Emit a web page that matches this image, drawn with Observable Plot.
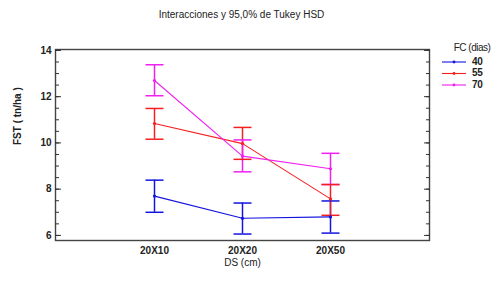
<!DOCTYPE html>
<html>
<head>
<meta charset="utf-8">
<script src="https://cdn.jsdelivr.net/npm/d3@7"></script>
<script src="https://cdn.jsdelivr.net/npm/@observablehq/plot@0.6"></script>
<style>
  body { margin: 0; background: #fff; }
  svg { font-family: "Liberation Sans", Arial, sans-serif; }
</style>
</head>
<body>
<div id="chart"></div>
<script>
// Categories (DS, cm) and groups (FC, dias)
const dsCategories = ["20X10", "20X20", "20X50"];
const fcGroups = ["40", "55", "70"];
const fcColors = ["#1414e0", "#f42020", "#f020f0"];

// Means and Tukey HSD 95% intervals
const mean40 = [7.70, 6.74, 6.80];
const low40  = [7.00, 6.06, 6.10];
const high40 = [8.39, 7.40, 7.49];

const mean55 = [10.84, 9.97, 7.58];
const low55  = [10.16, 9.29, 6.87];
const high55 = [11.49, 10.67, 8.20];

const mean70 = [12.70, 9.43, 8.88];
const low70  = [12.04, 8.75, 8.20];
const high70 = [13.38, 10.13, 9.55];

const yMajorTicks = [6, 8, 10, 12, 14];
const yMinorTicks = d3.range(6, 14.01, 0.5);

const title = "Interacciones y 95,0% de Tukey HSD";
const xLabel = "DS (cm)";
const yLabel = "FST ( tn/ha )";
const legendTitle = "FC (dias)";

const series = [
  {fc: fcGroups[0], mean: mean40, low: low40, high: high40},
  {fc: fcGroups[1], mean: mean55, low: low55, high: high55},
  {fc: fcGroups[2], mean: mean70, low: low70, high: high70}
];
const rows = series.flatMap(s => dsCategories.map((ds, i) => ({
  ds, fc: s.fc, mean: s.mean[i], low: s.low[i], high: s.high[i]
})));

const capSymbol = { draw(ctx) { ctx.moveTo(-9, 0); ctx.lineTo(9, 0); } };

const color = {domain: fcGroups, range: fcColors};

const chart = Plot.plot({
  width: 502,
  height: 281,
  marginLeft: 55,
  marginRight: 73,
  marginTop: 49,
  marginBottom: 41,
  style: {fontSize: "10px", fontFamily: "Liberation Sans, Arial, sans-serif", color: "#222"},
  x: {type: "point", domain: dsCategories, padding: 1.113, label: null},
  y: {domain: [5.78, 14.04], label: null},
  color,
  marks: [
    Plot.frame({stroke: "#444", strokeWidth: 1.4}),
    // minor + major ticks, inward, both sides
    Plot.axisY({anchor: "left", ticks: yMinorTicks, tickSize: -4, text: null, stroke: "#333", label: null}),
    Plot.axisY({anchor: "left", ticks: yMajorTicks, tickSize: -6, tickPadding: 10, fontWeight: "bold", letterSpacing: "-0.4px", label: null, stroke: "#333"}),
    Plot.axisY({anchor: "right", ticks: yMinorTicks, tickSize: -4, text: null, stroke: "#333", label: null}),
    Plot.axisY({anchor: "right", ticks: yMajorTicks, tickSize: -6, text: null, stroke: "#333", label: null}),
    Plot.axisX({tickSize: 0, tickPadding: 6, fontWeight: "bold", letterSpacing: "-0.6px", label: null}),
    Plot.text([xLabel], {frameAnchor: "bottom", dy: 25, fontSize: 10, letterSpacing: "-0.3px", fill: "#222"}),
    Plot.text([yLabel], {frameAnchor: "left", dx: -38, rotate: -90, fontSize: 10, fontWeight: "bold", letterSpacing: "-0.3px", fill: "#222"}),
    Plot.text([title], {frameAnchor: "top", dy: -39, dx: -1, fontSize: 10, letterSpacing: "-0.5px", fill: "#222"}),
    // error bars
    Plot.ruleX(rows, {x: "ds", y1: "low", y2: "high", stroke: "fc", strokeWidth: 1.5}),
    Plot.dot(rows, {x: "ds", y: "low", stroke: "fc", symbol: capSymbol, strokeWidth: 1.5}),
    Plot.dot(rows, {x: "ds", y: "high", stroke: "fc", symbol: capSymbol, strokeWidth: 1.5}),
    // lines and means
    Plot.line(rows, {x: "ds", y: "mean", stroke: "fc", z: "fc", strokeWidth: 1.1}),
    Plot.dot(rows, {x: "ds", y: "mean", fill: "fc", r: 1.6})
  ]
});

// Legend drawn inside the same svg
const svg = d3.select(chart);
const lg = svg.append("g").attr("font-family", "Liberation Sans, Arial, sans-serif").attr("font-size", 10);
lg.append("text").attr("x", 472).attr("y", 48).attr("text-anchor", "middle").attr("dominant-baseline", "middle")
  .attr("letter-spacing", "-0.5px").attr("fill", "#222").text(legendTitle);
fcGroups.forEach((g, i) => {
  const y = 62 + i * 11.5;
  lg.append("line").attr("x1", 442).attr("x2", 466).attr("y1", y).attr("y2", y)
    .attr("stroke", fcColors[i]).attr("stroke-width", 1.1);
  lg.append("circle").attr("cx", 454).attr("cy", y).attr("r", 1.4).attr("fill", fcColors[i]);
  lg.append("text").attr("x", 472).attr("y", y).attr("text-anchor", "start").attr("dominant-baseline", "middle")
    .attr("font-weight", "bold").attr("letter-spacing", "-0.4px").attr("fill", "#222").text(g);
});

document.getElementById("chart").appendChild(chart);
</script>
</body>
</html>
